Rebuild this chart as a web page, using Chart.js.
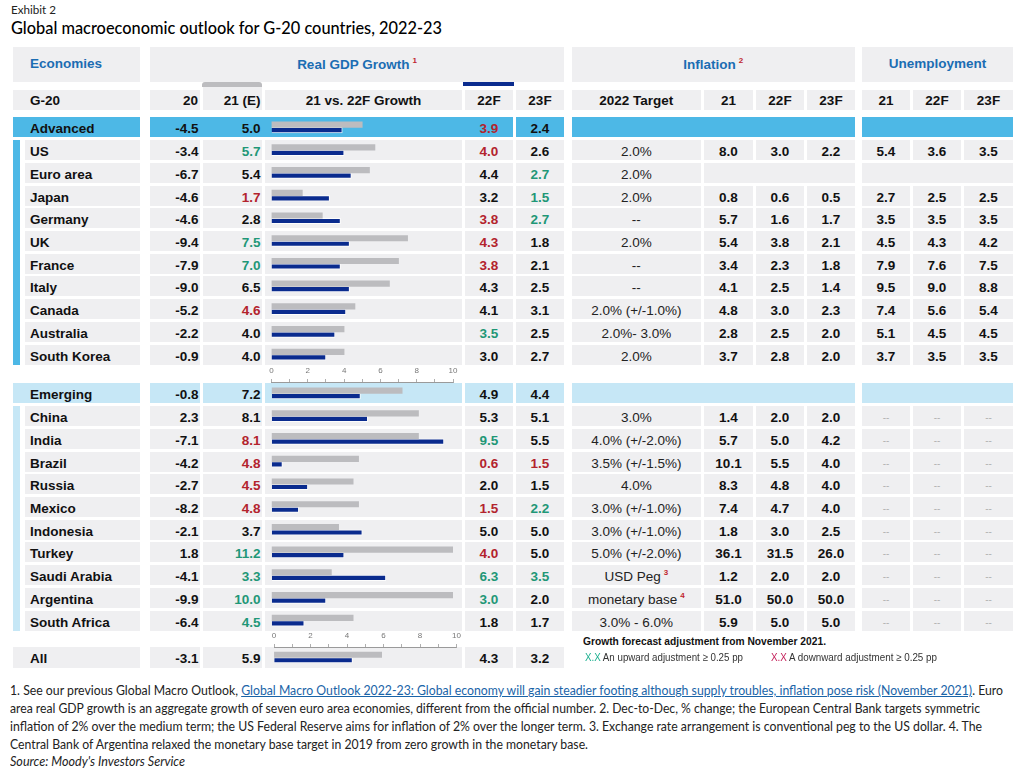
<!DOCTYPE html>
<html><head><meta charset="utf-8">
<script src="https://cdn.jsdelivr.net/npm/chart.js@4.4.1/dist/chart.umd.min.js"></script>
<style>
html,body{margin:0;padding:0;background:#fff;}
#page{position:relative;width:1024px;height:773px;overflow:hidden;font-family:"Liberation Sans",Arial,sans-serif;color:#111;}
.cell{position:absolute;box-sizing:border-box;white-space:nowrap;overflow:visible;}
.fit{position:absolute;white-space:nowrap;transform-origin:0 50%;}
canvas{position:absolute;}
sup.r{color:#c0262d;font-size:8px;font-weight:bold;vertical-align:6px;margin-left:3px;line-height:0;}
</style></head><body><div id="page"></div>
<script>
// ---------------- DATA ----------------
const economies = ['Advanced','US','Euro area','Japan','Germany','UK','France','Italy','Canada','Australia','South Korea',
  'Emerging','China','India','Brazil','Russia','Mexico','Indonesia','Turkey','Saudi Arabia','Argentina','South Africa','All'];
const rowKind = ['adv','c','c','c','c','c','c','c','c','c','c','emg','c','c','c','c','c','c','c','c','c','c','all'];
const gdp2020 = [-4.5,-3.4,-6.7,-4.6,-4.6,-9.4,-7.9,-9.0,-5.2,-2.2,-0.9,-0.8,2.3,-7.1,-4.2,-2.7,-8.2,-2.1,1.8,-4.1,-9.9,-6.4,-3.1];
const gdp2021 = [5.0,5.7,5.4,1.7,2.8,7.5,7.0,6.5,4.6,4.0,4.0,7.2,8.1,8.1,4.8,4.5,4.8,3.7,11.2,3.3,10.0,4.5,5.9];
const gdp2022F = [3.9,4.0,4.4,3.2,3.8,4.3,3.8,4.3,4.1,3.5,3.0,4.9,5.3,9.5,0.6,2.0,1.5,5.0,4.0,6.3,3.0,1.8,4.3];
const gdp2023F = [2.4,2.6,2.7,1.5,2.7,1.8,2.1,2.5,3.1,2.5,2.7,4.4,5.1,5.5,1.5,1.5,2.2,5.0,5.0,3.5,2.0,1.7,3.2];
// forecast adjustment vs Nov 2021: 'u' upward, 'd' downward
const adj2021 = ['','u','','d','','u','u','','d','','','','','d','d','d','d','','u','u','u','u',''];
const adj2022F = ['d','d','','','d','d','d','','','u','','','','u','d','','d','','d','u','u','',''];
const adj2023F = ['','','u','u','u','','','','','','','','','','d','','u','','','u','','',''];
const inflationTarget = [null,'2.0%','2.0%','2.0%','--','2.0%','--','--','2.0% (+/-1.0%)','2.0%- 3.0%','2.0%',
  null,'3.0%','4.0% (+/-2.0%)','3.5% (+/-1.5%)','4.0%','3.0% (+/-1.0%)','3.0% (+/-1.0%)','5.0% (+/-2.0%)','USD Peg','monetary base','3.0% - 6.0%',null];
const targetNote = ['','','','','','','','','','','','','','','','','','','','3','4','',''];
const inflation2021 = [null,8.0,null,0.8,5.7,5.4,3.4,4.1,4.8,2.8,3.7,null,1.4,5.7,10.1,8.3,7.4,1.8,36.1,1.2,51.0,5.9,null];
const inflation2022F = [null,3.0,null,0.6,1.6,3.8,2.3,2.5,3.0,2.5,2.8,null,2.0,5.0,5.5,4.8,4.7,3.0,31.5,2.0,50.0,5.0,null];
const inflation2023F = [null,2.2,null,0.5,1.7,2.1,1.8,1.4,2.3,2.0,2.0,null,2.0,4.2,4.0,4.0,4.0,2.5,26.0,2.0,50.0,5.0,null];
const unemp2021 = [null,5.4,null,2.7,3.5,4.5,7.9,9.5,7.4,5.1,3.7,null,'--','--','--','--','--','--','--','--','--','--',null];
const unemp2022F = [null,3.6,null,2.5,3.5,4.3,7.6,9.0,5.6,4.5,3.5,null,'--','--','--','--','--','--','--','--','--','--',null];
const unemp2023F = [null,3.5,null,2.5,3.5,4.2,7.5,8.8,5.4,4.5,3.5,null,'--','--','--','--','--','--','--','--','--','--',null];
const axisTicks = [0,2,4,6,8,10];
const gdpHeaders = ['20','21 (E)','21 vs. 22F Growth','22F','23F'];
const inflHeaders = ['2022 Target','21','22F','23F'];
const unempHeaders = ['21','22F','23F'];

// ---------------- STYLE ----------------
const C = {cell:'#efeff1', adv:'#4db8e6', emg:'#c6e7f6', head:'#1b6db3', red:'#b3232d', green:'#1f9777',
  barGray:'#bcbcbf', barBlue:'#0a2b8e', legRed:'#c4205a', legGreen:'#1bb08f'};
const BOLD = 'bold 13.5px "Liberation Sans", Arial, sans-serif';
const REG = '13.5px "Liberation Sans", Arial, sans-serif';
const page = document.getElementById('page');

function cell(x,y,w,h,bg,txt,o){
  o = o||{};
  const d=document.createElement('div'); d.className='cell';
  d.style.font=o.font||BOLD;
  Object.assign(d.style,{left:x+'px',top:y+'px',width:w+'px',height:h+'px',background:bg||'transparent',
    lineHeight:(o.lh||(h+3))+'px',textAlign:o.align||'center',color:o.color||'#111'});
  if(o.pl) d.style.paddingLeft=o.pl+'px';
  if(o.pr) d.style.paddingRight=o.pr+'px';
  if(o.pt) d.style.paddingTop=o.pt+'px';
  if(o.html) d.innerHTML=txt; else if(txt!=null) d.textContent=txt;
  page.appendChild(d); return d;
}
function fitText(html,x,yc,w,font,lh,color){
  const d=document.createElement('div'); d.className='fit';
  d.style.font=font;
  Object.assign(d.style,{left:x+'px',top:(yc-lh/2)+'px',lineHeight:lh+'px',color:color||'#222'});
  d.dataset.w=w; d.innerHTML=html; page.appendChild(d); return d;
}
const fmt = v => (typeof v==='number') ? v.toFixed(1) : (v==null?'':v);
const adjColor = a => a==='u'?C.green:(a==='d'?C.red:'#111');

// columns
const COL = {lab:[24.5,115.5], labW:[12.7,127.3], g20:[150,50], g21:[203,59], bar:[265,197], g22:[465,48], g23:[516,48],
  tgt:[571.7,129.3], i21:[704,49], i22:[756,48], i23:[807,48], u21:[862,48], u22:[913,48], u23:[964,49]};

function rowCenter(i){
  if(i<=10) return 116 + (i+0.5)*250/11;
  if(i<=21) return 382 + (i-11+0.5)*250/11;
  return 657.5;
}

// ---------------- TITLES ----------------
fitText('Exhibit 2',11,10,45,'12px Lato, sans-serif',14,'#222');
fitText('Global macroeconomic outlook for G-20 countries, 2022-23',11,28,431,'500 17px Lato, sans-serif',20,'#000');

// ---------------- HEADER ROW 1 ----------------
cell(12.7,47,127.3,34.5,C.cell,'Economies',{align:'left',pl:17.3,color:C.head,lh:34});
cell(150,47,414,34.5,C.cell,'Real GDP Growth<sup class="r">1</sup>',{html:true,color:C.head,lh:36});
cell(571.7,47,283.3,34.5,C.cell,'Inflation<sup class="r">2</sup>',{html:true,color:C.head,lh:36});
cell(862,47,151,34.5,C.cell,'Unemployment',{color:C.head,lh:34});
// legend tabs (series keys)
const tabG = cell(201.7,81.7,60.6,5.3,C.barGray,null); tabG.style.borderRadius='3px 3px 0 0';
cell(463,81.7,51,4.5,C.barBlue,null);

// ---------------- HEADER ROW 2 ----------------
const hy=90, hh=19.5;
cell(COL.labW[0],hy,COL.labW[1],hh,C.cell,'G-20',{align:'left',pl:17.3});
cell(COL.g20[0],hy,COL.g20[1],hh,C.cell,gdpHeaders[0],{align:'right',pr:2});
cell(COL.g21[0],hy-3,COL.g21[1],hh+3,C.cell,gdpHeaders[1],{align:'right',pr:1.5,pt:3,lh:hh+3});
cell(COL.bar[0],hy,COL.bar[1],hh,C.cell,gdpHeaders[2]);
cell(COL.g22[0],hy,COL.g22[1],hh,C.cell,gdpHeaders[3]);
cell(COL.g23[0],hy,COL.g23[1],hh,C.cell,gdpHeaders[4]);
['tgt','i21','i22','i23'].forEach((k,j)=>cell(COL[k][0],hy,COL[k][1],hh,C.cell,inflHeaders[j]));
['u21','u22','u23'].forEach((k,j)=>cell(COL[k][0],hy,COL[k][1],hh,C.cell,unempHeaders[j]));

// ---------------- GROUP ACCENTS ----------------
cell(12.7,rowCenter(1)-10,7.8,(rowCenter(10)+10)-(rowCenter(1)-10),C.adv,null);
cell(12.7,rowCenter(12)-10,7.8,(rowCenter(21)+10)-(rowCenter(12)-10),C.emg,null);

// ---------------- ROWS ----------------
economies.forEach((name,i)=>{
  const kind=rowKind[i];
  const h = kind==='all'?21:20;
  const y = kind==='all'?647:rowCenter(i)-10;
  const bg = kind==='adv'?C.adv:(kind==='emg'?C.emg:C.cell);
  // label
  if(kind==='c') cell(COL.lab[0],y,COL.lab[1],h,bg,name,{align:'left',pl:5.5});
  else cell(COL.labW[0],y,COL.labW[1],h,bg,name,{align:'left',pl:17.3});
  // GDP
  const cbg = kind==='adv'?null:bg;
  if(kind==='adv') cell(150,y,363,h,C.adv,null);
  cell(COL.g20[0],y,COL.g20[1],h,cbg,fmt(gdp2020[i]),{align:'right',pr:1.5});
  cell(COL.g21[0],y,COL.g21[1],h,cbg,fmt(gdp2021[i]),{align:'right',pr:1.5,color:adjColor(adj2021[i])});
  if(kind!=='adv') cell(COL.bar[0],y,COL.bar[1],h,bg,null);
  cell(COL.g22[0],y,COL.g22[1],h,cbg,fmt(gdp2022F[i]),{color:adjColor(adj2022F[i])});
  cell(COL.g23[0],y,COL.g23[1],h,bg,fmt(gdp2023F[i]),{color:adjColor(adj2023F[i])});
  if(kind==='all') return;
  // Inflation / Unemployment
  if(kind==='adv'||kind==='emg'){
    cell(571.7,y,283.3,h,bg,null);
    cell(862,y,151,h,bg,null);
    return;
  }
  const tg = inflationTarget[i] + (targetNote[i]?'<sup class="r">'+targetNote[i]+'</sup>':'');
  cell(COL.tgt[0],y,COL.tgt[1],h,bg,tg,{html:true,font:REG,color:'#222'});
  if(inflation2021[i]==null){
    cell(704,y,151,h,bg,null);
  } else {
    cell(COL.i21[0],y,COL.i21[1],h,bg,fmt(inflation2021[i]));
    cell(COL.i22[0],y,COL.i22[1],h,bg,fmt(inflation2022F[i]));
    cell(COL.i23[0],y,COL.i23[1],h,bg,fmt(inflation2023F[i]));
  }
  if(unemp2021[i]==null){
    cell(862,y,151,h,bg,null);
  } else {
    const uo = v => (v==='--')?{font:'10px "Liberation Sans", Arial',color:'#b3b3b3'}:{};
    cell(COL.u21[0],y,COL.u21[1],h,bg,fmt(unemp2021[i]),uo(unemp2021[i]));
    cell(COL.u22[0],y,COL.u22[1],h,bg,fmt(unemp2022F[i]),uo(unemp2022F[i]));
    cell(COL.u23[0],y,COL.u23[1],h,bg,fmt(unemp2023F[i]),uo(unemp2023F[i]));
  }
});

// ---------------- BAR CHARTS (Chart.js) ----------------
function makeChart(left,top,w,h,pad,idx,showAxis){
  const cv=document.createElement('canvas');
  cv.width=w; cv.height=h;
  Object.assign(cv.style,{left:left+'px',top:top+'px',width:w+'px',height:h+'px'});
  page.appendChild(cv);
  const xScale={type:'linear',min:0,max:10,display:showAxis,position:'top',
    ticks:{stepSize:1,autoSkip:false,maxRotation:0,padding:3,color:'#777',
      font:{size:8,family:'"Liberation Sans", Arial'},
      callback:v=>axisTicks.includes(v)?String(v):''},
    grid:{drawOnChartArea:false,tickLength:3,color:'#9a9a9a',lineWidth:0.8},
    border:{display:true,color:'#9a9a9a',width:1}};
  if(showAxis) xScale.afterFit=s=>{s.height=20;};
  return new Chart(cv,{
    type:'bar',
    data:{labels:idx.map(i=>economies[i]),datasets:[
      {label:'21 (E)',data:idx.map(i=>gdp2021[i]),backgroundColor:C.barGray,borderWidth:0,barThickness:5.5,clip:0},
      {label:'22F',data:idx.map(i=>gdp2022F[i]),backgroundColor:C.barBlue,borderColor:'rgba(255,255,255,0.85)',borderWidth:1,barThickness:5.5,clip:0}
    ]},
    options:{
      indexAxis:'y',responsive:false,animation:false,events:[],
      layout:{padding:pad},
      plugins:{legend:{display:false},tooltip:{enabled:false}},
      scales:{x:xScale,y:{type:'category',display:false,offset:true}}
    }
  });
}
const idxA=[0,1,2,3,4,5,6,7,8,9,10], idxB=[11,12,13,14,15,16,17,18,19,20,21], idxC=[22];
makeChart(259,116,206,250,{left:12.5,right:12,top:0,bottom:0},idxA,false);
makeChart(259,362,206,270,{left:12.5,right:12,top:0,bottom:0},idxB,true);
makeChart(262,627,207,41,{left:12,right:12.5,top:0,bottom:0},idxC,true);

// ---------------- ADJUSTMENT LEGEND ----------------
fitText('Growth forecast adjustment from November 2021.',583,640.5,243,'bold 11px "Liberation Sans", Arial',14,'#111');
fitText('<span style="color:'+C.legGreen+'">X.X</span> An upward adjustment &ge; 0.25 pp',585,656.5,158,'11px "Liberation Sans", Arial',14,'#333');
fitText('<span style="color:'+C.legRed+'">X.X</span> A downward adjustment &ge; 0.25 pp',771,656.5,166,'11px "Liberation Sans", Arial',14,'#333');

// ---------------- FOOTNOTES ----------------
const FN='12.5px Lato, sans-serif';
fitText('1. See our previous Global Macro Outlook, <span style="color:#1a64a8;text-decoration:underline">Global Macro Outlook 2022-23: Global economy will gain steadier footing although supply troubles, inflation pose risk (November 2021)</span>. Euro',10,691,993,FN,16,'#222');
fitText('area real GDP growth is an aggregate growth of seven euro area economies, different from the official number. 2. Dec-to-Dec, % change; the European Central Bank targets symmetric',10,708.5,970,FN,16,'#222');
fitText('inflation of 2% over the medium term; the US Federal Reserve aims for inflation of 2% over the longer term. 3. Exchange rate arrangement is conventional peg to the US dollar. 4. The',10,726.5,972,FN,16,'#222');
fitText('Central Bank of Argentina relaxed the monetary base target in 2019 from zero growth in the monetary base.',10,744.5,578,FN,16,'#222');
fitText('<i>Source: Moody\'s Investors Service</i>',10,762,175,FN,16,'#222');

function fitAll(){
  document.querySelectorAll('.fit').forEach(el=>{
    el.style.transform='none';
    const nat=el.getBoundingClientRect().width;
    const tw=+el.dataset.w;
    if(nat>0) el.style.transform='scaleX('+(tw/nat)+')';
  });
}
fitAll();
if(document.fonts&&document.fonts.ready) document.fonts.ready.then(fitAll);
</script></body></html>
